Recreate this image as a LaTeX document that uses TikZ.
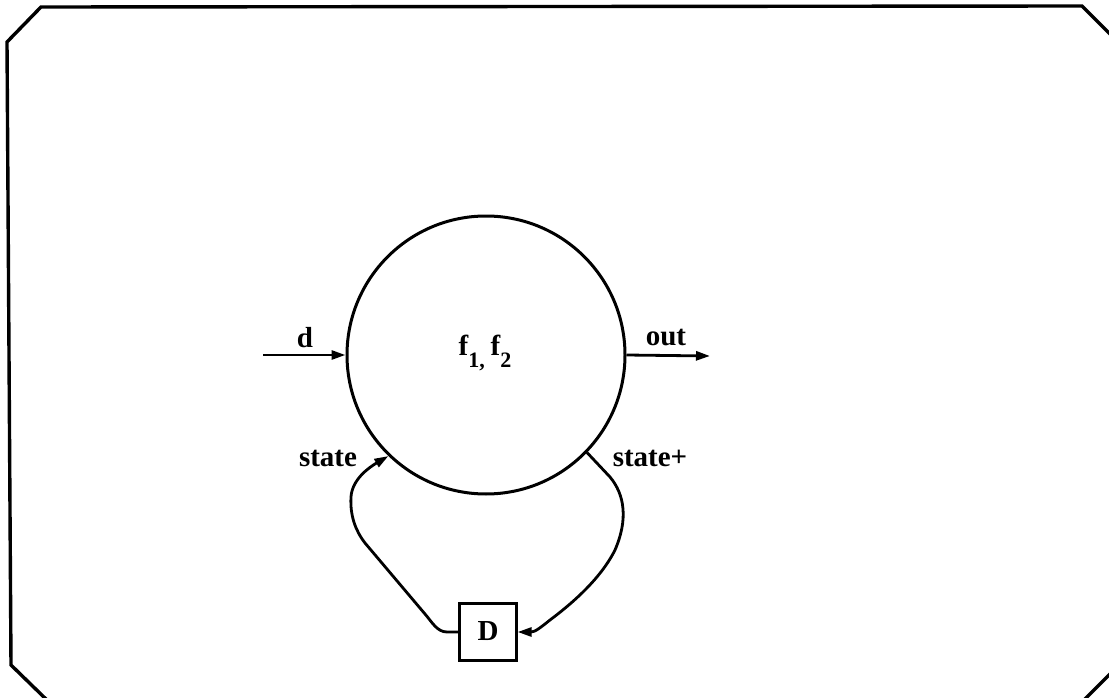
\documentclass[tikz,border=0pt]{standalone}
\usepackage{fontspec}
\setmainfont{Liberation Serif}
\usetikzlibrary{arrows.meta}
\begin{document}
\begin{tikzpicture}[x=1pt,y=-1pt,
  lbl/.style={font=\fontsize{29}{34}\selectfont\bfseries, inner sep=0pt},
  wire/.style={line width=2.8pt},
  tip/.style={-{Triangle[length=14pt,width=9pt]}},
  frame/.style={line width=3.4pt, line join=miter}]
\useasboundingbox (0,0) rectangle (1109,698);
\begin{scope}
\clip (0,0) rectangle (1109,698);
\draw[frame] (41,7) -- (1082,6) -- (1115,39) -- (1115,669) -- (1081,703) -- (50,703) -- (11,665) -- (7,42) -- cycle;
\end{scope}
\node[circle, draw, line width=3pt, minimum size=278pt, inner sep=0pt] (F) at (486,355) {};
\node[lbl] (ftxt) at (485,353) {f\raisebox{-0.38em}{\fontsize{22}{24}\selectfont 1,}\hspace{0.2em}f\raisebox{-0.38em}{\fontsize{22}{24}\selectfont 2}};
\node[draw, line width=2.2pt, minimum size=57pt, inner sep=0pt] (D) at (488,632) {};
\node[lbl] (Dl) at (488,631) {D};
\coordinate (din) at (263,355);
\coordinate (dout) at (710,356);
\draw[wire, tip] (din) -- (F.west);
\draw[wire, tip] (F.east) -- (dout);
\node[lbl] (dl) at (305,338) {d};
\node[lbl] (outl) at (666,338) {out};
\node[lbl] (stl) at (328,458) {state};
\node[lbl] (stpl) at (650,458) {state+};
\draw[wire, tip] (D.west) -- (447,632) .. controls (437,632) and (432,622) .. (425,614) -- (365,543) .. controls (355,530) and (350,515) .. (351,497) .. controls (352,480) and (368,468) .. (F.-134);
\draw[wire, tip] (F.-44) -- (610,477) .. controls (625,495) and (628,520) .. (615,550) .. controls (600,580) and (570,605) .. (550,620) .. controls (540,628) and (535,632) .. (D.east);
\end{tikzpicture}
\end{document}
